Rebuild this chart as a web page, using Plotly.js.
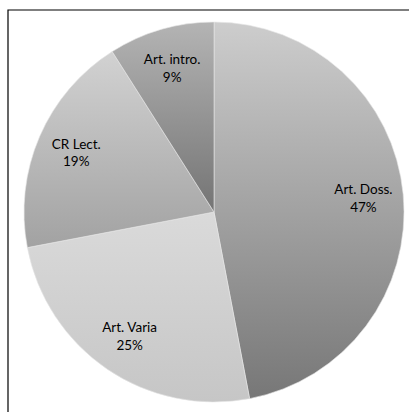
<!DOCTYPE html>
<html>
<head>
<meta charset="utf-8">
<script src="https://cdn.plot.ly/plotly-3.0.1.min.js"></script>
<style>
html,body{margin:0;padding:0;background:#fff;}
#chart{width:409px;height:412px;}
</style>
</head>
<body>
<div id="chart"></div>
<script>
// Data
var labels = ["Art. Doss.", "Art. Varia", "CR Lect.", "Art. intro."];
var values = [47, 25, 19, 9];
// Solid fallback colours, plus gradient (top, bottom) colours per slice
var colors = ["#a3a3a3", "#d2d2d2", "#b9b9b9", "#9c9c9c"];
var gradTop = ["#cdcdcd", "#dadada", "#d2d2d2", "#b4b4b4"];
var gradBottom = ["#777777", "#c6c6c6", "#a2a2a2", "#747474"];

var domain = {x: [24/409, 404/409], y: [10/412, 390/412]};

var pieFill = {
  type: "pie",
  labels: labels,
  values: values,
  sort: false,
  direction: "clockwise",
  rotation: 0,
  domain: domain,
  marker: {colors: colors, line: {color: "#e6e6e6", width: 0.6}},
  textinfo: "none",
  hoverinfo: "label+percent",
  showlegend: false
};

var pieText = {
  type: "pie",
  labels: labels,
  values: values,
  sort: false,
  direction: "clockwise",
  rotation: 0,
  hole: 0.58,
  domain: domain,
  marker: {colors: ["rgba(0,0,0,0)","rgba(0,0,0,0)","rgba(0,0,0,0)","rgba(0,0,0,0)"], line: {width: 0}},
  textinfo: "label+percent",
  textposition: "inside",
  insidetextorientation: "horizontal",
  textfont: {family: "Lato, 'Open Sans', sans-serif", size: 13.5, color: "#000000"},
  hoverinfo: "skip",
  showlegend: false
};

var layout = {
  width: 409,
  height: 412,
  margin: {l: 0, r: 0, t: 0, b: 0},
  paper_bgcolor: "#ffffff",
  plot_bgcolor: "#ffffff",
  showlegend: false,
  shapes: [{
    type: "rect", xref: "paper", yref: "paper",
    x0: 8/409, x1: 1.05, y0: -0.05, y1: 1 - 10/412,
    line: {color: "#000000", width: 1.2}, fillcolor: "rgba(0,0,0,0)", layer: "below"
  }]
};

Plotly.newPlot("chart", [pieFill, pieText], layout, {displayModeBar: false, staticPlot: true}).then(function(gd){
  var svg = gd.querySelector("svg.main-svg");
  var ns = "http://www.w3.org/2000/svg";
  var defs = svg.querySelector("defs") || svg.insertBefore(document.createElementNS(ns, "defs"), svg.firstChild);
  for (var i = 0; i < labels.length; i++) {
    var g = document.createElementNS(ns, "linearGradient");
    g.setAttribute("id", "sliceGrad" + i);
    g.setAttribute("x1", "0"); g.setAttribute("y1", "0");
    g.setAttribute("x2", "0"); g.setAttribute("y2", "1");
    var s1 = document.createElementNS(ns, "stop");
    s1.setAttribute("offset", "0"); s1.setAttribute("stop-color", gradTop[i]);
    var s2 = document.createElementNS(ns, "stop");
    s2.setAttribute("offset", "1"); s2.setAttribute("stop-color", gradBottom[i]);
    g.appendChild(s1); g.appendChild(s2);
    defs.appendChild(g);
  }
  var traces = gd.querySelectorAll("g.trace");
  if (traces.length) {
    var slices = traces[0].querySelectorAll("g.slice path.surface");
    slices.forEach(function(p, i){
      p.style.fill = "url(#sliceGrad" + i + ")";
    });
  }
});
</script>
</body>
</html>
